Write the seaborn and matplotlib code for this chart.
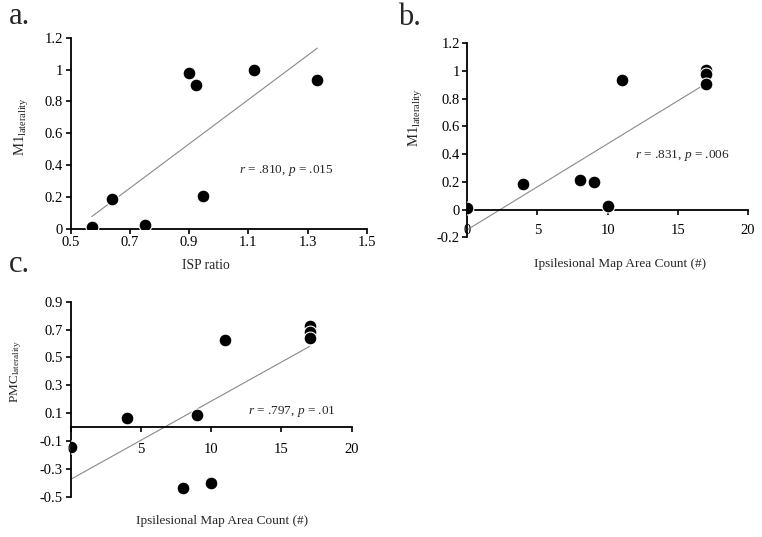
import matplotlib
matplotlib.use("Agg")
import matplotlib.pyplot as plt
import numpy as np
import pandas as pd
import seaborn as sns
from matplotlib.ticker import FuncFormatter

# panel a: ISP ratio vs M1 laterality
isp_ratio = [0.571, 0.641, 0.750, 0.900, 0.922, 0.947, 1.119, 1.333]
m1_lat_a = [0.010, 0.187, 0.025, 0.978, 0.903, 0.205, 1.000, 0.932]

# panel b: ipsilesional map area count vs M1 laterality
map_count = [0, 4, 8, 9, 10, 11, 17, 17, 17]
m1_lat_b = [0.010, 0.185, 0.211, 0.200, 0.025, 0.935, 1.005, 0.980, 0.904]

# panel c: ipsilesional map area count vs PMC laterality
pmc_lat = [-0.141, 0.062, -0.436, 0.089, -0.404, 0.627, 0.727, 0.680, 0.641]

stats_a = r"$r$ = .810, $p$ = .015"
stats_b = r"$r$ = .831, $p$ = .006"
stats_c = r"$r$ = .797, $p$ = .01"

sns.set_style("ticks")
plt.rcParams["font.family"] = ["Liberation Serif", "DejaVu Serif"]
plt.rcParams["mathtext.fontset"] = "custom"
plt.rcParams["mathtext.rm"] = "Liberation Serif"
plt.rcParams["mathtext.it"] = "Liberation Serif:italic"
plt.rcParams["font.size"] = 9.5

fmt = FuncFormatter(lambda v, pos: f"{round(v, 2):g}")


def style_axis(ax, xticks, yticks, xlim, ylim, xpad=2):
    ax.set_xlim(*xlim)
    ax.set_ylim(*ylim)
    ax.set_xticks(xticks)
    ax.set_yticks(yticks)
    ax.xaxis.set_major_formatter(fmt)
    ax.yaxis.set_major_formatter(fmt)
    for side in ["top", "right"]:
        ax.spines[side].set_visible(False)
    for side in ["left", "bottom"]:
        ax.spines[side].set_linewidth(1.3)
        ax.spines[side].set_color("black")
    ax.tick_params(direction="out", length=3.5, width=1.2, labelsize=10.5,
                   colors="black", pad=2)
    ax.tick_params(axis="x", pad=xpad)


def scatter_fit(ax, x, y):
    sns.regplot(x=x, y=y, ax=ax, ci=None, truncate=True,
                scatter_kws=dict(s=85, color="black", edgecolor="white",
                                 linewidths=0.8, alpha=1, zorder=3),
                line_kws=dict(color="#8a8a8a", linewidth=0.8, zorder=2))


fig = plt.figure(figsize=(7.62, 5.37), dpi=100)

# a.
ax_a = fig.add_axes([0.0928, 0.5741, 0.3885, 0.3557])
scatter_fit(ax_a, isp_ratio, m1_lat_a)
style_axis(ax_a, np.arange(0.5, 1.51, 0.2), np.arange(0, 1.21, 0.2),
           (0.5, 1.5), (0, 1.2))
ax_a.set_xlabel("ISP ratio", fontsize=9.8)
ax_a.set_ylabel(r"M1$_{\mathrm{laterality}}$", fontsize=10.5)
ax_a.xaxis.set_label_coords(0.457, -0.16)
ax_a.yaxis.set_label_coords(-0.135, 0.532)
ax_a.text(1.069, 0.364, stats_a, va="center", ha="left", fontsize=9.5)
fig.text(0.012, 0.956, "a.", fontsize=22)

# b.
ax_b = fig.add_axes([0.6133, 0.5581, 0.368, 0.3613])
scatter_fit(ax_b, map_count, m1_lat_b)
style_axis(ax_b, np.arange(0, 21, 5), np.arange(-0.2, 1.21, 0.2),
           (0, 20), (-0.2, 1.2), xpad=7)
ax_b.spines["bottom"].set_position(("data", 0))
ax_b.set_xlabel("Ipsilesional Map Area Count (#)", fontsize=9.5)
ax_b.set_ylabel(r"M1$_{\mathrm{laterality}}$", fontsize=10.5)
ax_b.xaxis.set_label_coords(0.545, -0.105)
ax_b.yaxis.set_label_coords(-0.150, 0.615)
ax_b.text(11.96, 0.393, stats_b, va="center", ha="left", fontsize=9.5)
fig.text(0.522, 0.953, "b.", fontsize=22)

# c.
ax_c = fig.add_axes([0.0928, 0.0750, 0.3688, 0.3631])
scatter_fit(ax_c, map_count, pmc_lat)
style_axis(ax_c, np.arange(0, 21, 5), np.arange(-0.5, 0.91, 0.2),
           (0, 20), (-0.5, 0.9), xpad=8)
ax_c.spines["bottom"].set_position(("data", 0))
ax_c.set_xlabel("Ipsilesional Map Area Count (#)", fontsize=9.5)
ax_c.set_ylabel(r"PMC$_{\mathrm{laterality}}$", fontsize=9.5)
ax_c.xaxis.set_label_coords(0.537, -0.094)
ax_c.yaxis.set_label_coords(-0.165, 0.64)
ax_c.text(12.62, 0.11, stats_c, va="center", ha="left", fontsize=9.5)
fig.text(0.012, 0.494, "c.", fontsize=22)

fig.savefig("out.png", dpi=100)
